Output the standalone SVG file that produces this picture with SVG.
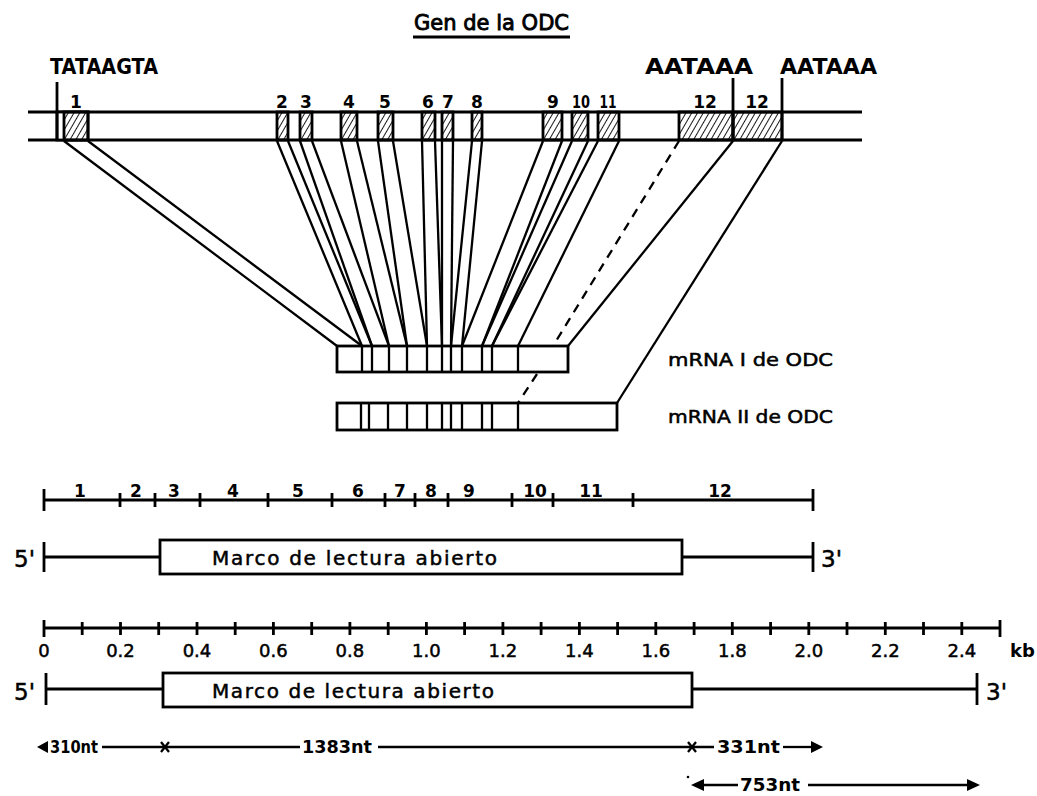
<svg xmlns="http://www.w3.org/2000/svg" width="1037" height="796" viewBox="0 0 1037 796">
<style>
text{font-family:"DejaVu Sans","Liberation Sans",Arial,sans-serif;fill:#000}
.b{font-weight:bold}
.md{stroke:#000;stroke-width:0.5}
.ln{stroke:#000;stroke-width:2.8;fill:none}
.th{stroke:#000;stroke-width:3.2;fill:none}
.cn{stroke:#000;stroke-width:2.3;fill:none}
.ex{fill:url(#h);stroke:#000;stroke-width:2.8}
.bx{fill:#fff;stroke:#000;stroke-width:2.8}
.num{font-size:17px;font-weight:bold;text-anchor:middle}
.sc{font-size:17px;font-weight:bold;text-anchor:middle}
.kb{font-size:18px;text-anchor:middle}
.nt{font-size:17px;font-weight:bold}
</style>
<defs>
<pattern id="h" width="5" height="5" patternUnits="userSpaceOnUse" patternTransform="rotate(30)">
<line x1="0" y1="-1" x2="0" y2="6" stroke="#000" stroke-width="1.8"/>
</pattern>
</defs>
<rect width="1037" height="796" fill="#fff"/>

<g id="title">
<text x="414" y="30" font-size="22" stroke="#000" stroke-width="0.9" textLength="155" lengthAdjust="spacingAndGlyphs">Gen de la ODC</text>
<line x1="413" y1="37" x2="570" y2="37" class="ln"/>
</g>

<g id="gene">
<line x1="28" y1="112" x2="862" y2="112" class="th"/>
<line x1="28" y1="140" x2="862" y2="140" class="th"/>
<rect x="57" y="112" width="31" height="28" fill="#fff" stroke="#000" stroke-width="2.8"/>
<rect x="64" y="112" width="24" height="28" class="ex"/>
<rect x="277" y="112" width="11" height="28" class="ex"/>
<rect x="300" y="112" width="12" height="28" class="ex"/>
<rect x="341" y="112" width="16" height="28" class="ex"/>
<rect x="378" y="112" width="15" height="28" class="ex"/>
<rect x="422" y="112" width="13" height="28" class="ex"/>
<rect x="442" y="112" width="11" height="28" class="ex"/>
<rect x="472" y="112" width="10" height="28" class="ex"/>
<rect x="543" y="112" width="19" height="28" class="ex"/>
<rect x="572" y="112" width="16" height="28" class="ex"/>
<rect x="598" y="112" width="21" height="28" class="ex"/>
<rect x="679" y="112" width="54" height="28" class="ex"/>
<rect x="733" y="112" width="49" height="28" class="ex"/>
<line x1="57" y1="82" x2="57" y2="140" class="ln"/>
<line x1="733" y1="78" x2="733" y2="140" class="ln"/>
<line x1="782" y1="78" x2="782" y2="140" class="ln"/>
<text x="50" y="74" class="b" font-size="21" textLength="108" lengthAdjust="spacingAndGlyphs">TATAAGTA</text>
<text x="645" y="74" class="b" font-size="21" textLength="108" lengthAdjust="spacingAndGlyphs">AATAAA</text>
<text x="780" y="74" class="b" font-size="21" textLength="97" lengthAdjust="spacingAndGlyphs">AATAAA</text>
<text x="76" y="108" class="num">1</text>
<text x="282" y="108" class="num">2</text>
<text x="306" y="108" class="num">3</text>
<text x="349" y="108" class="num">4</text>
<text x="385" y="108" class="num">5</text>
<text x="428" y="108" class="num">6</text>
<text x="448" y="108" class="num">7</text>
<text x="477" y="108" class="num">8</text>
<text x="553" y="108" class="num">9</text>
<text x="581" y="108" class="num" textLength="18" lengthAdjust="spacingAndGlyphs">10</text>
<text x="608" y="108" class="num" textLength="17" lengthAdjust="spacingAndGlyphs">11</text>
<text x="705" y="108" class="num">12</text>
<text x="757" y="108" class="num">12</text>
</g>

<g id="connectors">
<line x1="64" y1="141" x2="337" y2="346" class="cn"/>
<line x1="88" y1="141" x2="362" y2="346" class="cn"/>
<line x1="277" y1="141" x2="362" y2="346" class="cn"/>
<line x1="288" y1="141" x2="372" y2="346" class="cn"/>
<line x1="300" y1="141" x2="372" y2="346" class="cn"/>
<line x1="312" y1="141" x2="389" y2="346" class="cn"/>
<line x1="341" y1="141" x2="389" y2="346" class="cn"/>
<line x1="357" y1="141" x2="407" y2="346" class="cn"/>
<line x1="378" y1="141" x2="407" y2="346" class="cn"/>
<line x1="393" y1="141" x2="427" y2="346" class="cn"/>
<line x1="422" y1="141" x2="427" y2="346" class="cn"/>
<line x1="435" y1="141" x2="442" y2="346" class="cn"/>
<line x1="442" y1="141" x2="442" y2="346" class="cn"/>
<line x1="453" y1="141" x2="451" y2="346" class="cn"/>
<line x1="472" y1="141" x2="451" y2="346" class="cn"/>
<line x1="482" y1="141" x2="462" y2="346" class="cn"/>
<line x1="543" y1="141" x2="462" y2="346" class="cn"/>
<line x1="562" y1="141" x2="482" y2="346" class="cn"/>
<line x1="572" y1="141" x2="482" y2="346" class="cn"/>
<line x1="588" y1="141" x2="492" y2="346" class="cn"/>
<line x1="598" y1="141" x2="492" y2="346" class="cn"/>
<line x1="619" y1="141" x2="518" y2="346" class="cn"/>
<line x1="733" y1="141" x2="568" y2="346" class="cn"/>
<line x1="782" y1="141" x2="617" y2="403" class="cn"/>
<line x1="679" y1="141" x2="553" y2="346" class="cn" stroke-dasharray="9,7"/>
<line x1="537" y1="374" x2="518" y2="403" class="cn" stroke-dasharray="9,7"/>
</g>

<g id="mrna1">
<rect x="337" y="346" width="231" height="26" class="bx"/>
<path d="M362 346V372M372 346V372M389 346V372M407 346V372M427 346V372M442 346V372M451 346V372M462 346V372M482 346V372M492 346V372M518 346V372" class="cn"/>
<text x="668" y="366" font-size="17" class="md" textLength="165" lengthAdjust="spacingAndGlyphs">mRNA I de ODC</text>
</g>

<g id="mrna2">
<rect x="337" y="403" width="280" height="27" class="bx"/>
<path d="M361 403V430M369 403V430M388 403V430M407 403V430M427 403V430M442 403V430M451 403V430M462 403V430M482 403V430M492 403V430M518 403V430" class="cn"/>
<text x="668" y="423" font-size="17" class="md" textLength="165" lengthAdjust="spacingAndGlyphs">mRNA II de ODC</text>
</g>

<g id="exon-scale">
<line x1="44" y1="500" x2="813" y2="500" class="ln"/>
<path d="M44 489V511M813 489V511M120 493V507M155 493V507M200 493V507M268 493V507M332 493V507M385 493V507M415 493V507M448 493V507M512 493V507M553 493V507M633 493V507" class="ln"/>
<text x="80" y="497" class="sc">1</text>
<text x="136" y="497" class="sc">2</text>
<text x="174" y="497" class="sc">3</text>
<text x="233" y="497" class="sc">4</text>
<text x="298" y="497" class="sc">5</text>
<text x="358" y="497" class="sc">6</text>
<text x="400" y="497" class="sc">7</text>
<text x="431" y="497" class="sc">8</text>
<text x="469" y="497" class="sc">9</text>
<text x="535" y="497" class="sc">10</text>
<text x="591" y="497" class="sc">11</text>
<text x="720" y="497" class="sc">12</text>
</g>

<g id="orf1">
<line x1="44" y1="557" x2="160" y2="557" class="ln"/>
<line x1="682" y1="557" x2="813" y2="557" class="ln"/>
<path d="M44 542V572M813 542V572" class="ln"/>
<rect x="160" y="540" width="522" height="34" class="bx"/>
<text x="212" y="565" font-size="20" class="md" textLength="285" lengthAdjust="spacing">Marco de lectura abierto</text>
<text x="14" y="567" font-size="23" class="md">5'</text>
<text x="821" y="567" font-size="23" class="md">3'</text>
</g>

<g id="kb-scale">
<line x1="44" y1="628" x2="1000" y2="628" class="ln"/>
<path d="M44 620V637M1000 620V637M82.2 622V635M120.5 622V635M158.7 622V635M197 622V635M235.2 622V635M273.4 622V635M311.7 622V635M349.9 622V635M388.2 622V635M426.4 622V635M464.6 622V635M502.9 622V635M541.1 622V635M579.4 622V635M617.6 622V635M655.8 622V635M694.1 622V635M732.3 622V635M770.6 622V635M808.8 622V635M847 622V635M885.3 622V635M923.5 622V635M961.8 622V635" class="ln"/>
<text x="44" y="657" class="kb md">0</text>
<text x="120.5" y="657" class="kb md">0.2</text>
<text x="197" y="657" class="kb md">0.4</text>
<text x="273.4" y="657" class="kb md">0.6</text>
<text x="349.9" y="657" class="kb md">0.8</text>
<text x="426.4" y="657" class="kb md">1.0</text>
<text x="502.9" y="657" class="kb md">1.2</text>
<text x="579.4" y="657" class="kb md">1.4</text>
<text x="655.8" y="657" class="kb md">1.6</text>
<text x="732.3" y="657" class="kb md">1.8</text>
<text x="808.8" y="657" class="kb md">2.0</text>
<text x="885.3" y="657" class="kb md">2.2</text>
<text x="961.8" y="657" class="kb md">2.4</text>
<text x="1010" y="657" font-size="18" font-weight="bold">kb</text>
</g>

<g id="orf2">
<line x1="46" y1="689" x2="163" y2="689" class="ln"/>
<line x1="692" y1="689" x2="977" y2="689" class="ln"/>
<path d="M46 673V705M977 673V705" class="ln"/>
<rect x="163" y="673" width="529" height="34" class="bx"/>
<text x="212" y="698" font-size="20" class="md" textLength="282" lengthAdjust="spacing">Marco de lectura abierto</text>
<text x="14" y="700" font-size="23" class="md">5'</text>
<text x="986" y="700" font-size="23" class="md">3'</text>
</g>

<g id="lengths">
<polygon points="37,747 48,741 48,753" fill="#000"/>
<text x="50" y="753" class="nt" textLength="48" lengthAdjust="spacingAndGlyphs">310nt</text>
<line x1="102" y1="747" x2="300" y2="747" class="cn"/>
<path d="M161 742L169 752M169 742L161 752" class="cn"/>
<text x="302" y="753" class="nt" textLength="70" lengthAdjust="spacingAndGlyphs">1383nt</text>
<line x1="378" y1="747" x2="714" y2="747" class="cn"/>
<path d="M688 742L696 752M696 742L688 752" class="cn"/>
<text x="717" y="753" class="nt" textLength="63" lengthAdjust="spacingAndGlyphs">331nt</text>
<line x1="783" y1="747" x2="814" y2="747" class="cn"/>
<polygon points="823,747 811,741 811,753" fill="#000"/>
<circle cx="688" cy="777" r="1.3" fill="#000"/>
<polygon points="691,785 704,779 704,791" fill="#000"/>
<line x1="702" y1="785" x2="738" y2="785" class="cn"/>
<text x="740" y="791" class="nt" textLength="60" lengthAdjust="spacingAndGlyphs">753nt</text>
<line x1="808" y1="785" x2="970" y2="785" class="cn"/>
<polygon points="980,785 967,779 967,791" fill="#000"/>
</g>
</svg>
